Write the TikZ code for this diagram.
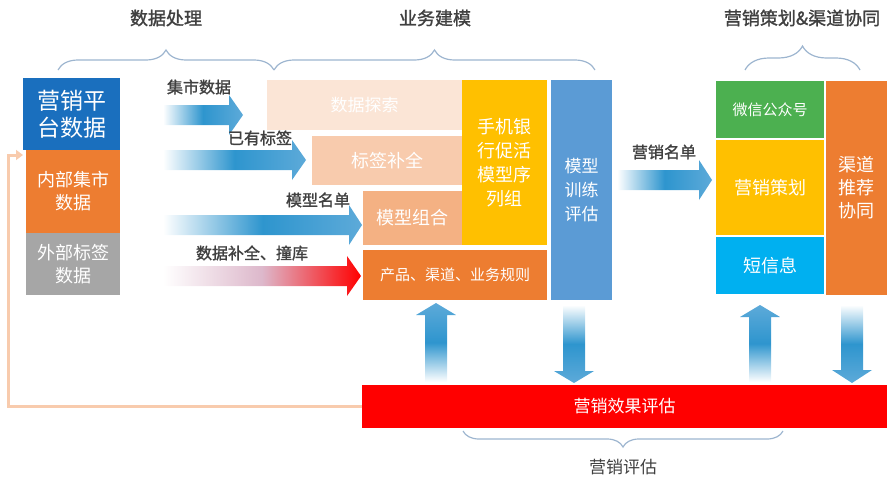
\documentclass[tikz,border=0pt]{standalone}
\usepackage{fontspec}
\setmainfont{Noto Sans CJK SC}[AutoFakeBold=1.5]
\usetikzlibrary{decorations.pathreplacing,arrows.meta,calc}
\definecolor{dblue}{HTML}{1A6FBE}
\definecolor{orng}{HTML}{ED7D31}
\definecolor{grey}{HTML}{A6A6A6}
\definecolor{peachA}{HTML}{FBE5D6}
\definecolor{peachB}{HTML}{F8CBAD}
\definecolor{peachC}{HTML}{F4B183}
\definecolor{yell}{HTML}{FFC000}
\definecolor{mblue}{HTML}{5B9BD5}
\definecolor{grn}{HTML}{4CB050}
\definecolor{cyn}{HTML}{00B0F0}
\definecolor{brc}{HTML}{9DB5CF}
\definecolor{lbl}{HTML}{404040}
\definecolor{abm}{HTML}{2E95CE}
\definecolor{abl}{HTML}{5DAAD9}
\definecolor{pinkmid}{HTML}{DDB8CB}
\newcommand\HArr[5]{%
  \shade[#1] (#2,{#5-10}) -- (#3,{#5-10}) -- (#3,{#5-20}) -- (#4,#5) -- (#3,{#5+20}) -- (#3,{#5+10}) -- (#2,{#5+10}) -- cycle;}
\newcommand\VArr[5]{%
  \shade[#1] ({#2-11},#3) -- ({#2-11},#4) -- ({#2-20},#4) -- (#2,#5) -- ({#2+20},#4) -- ({#2+11},#4) -- ({#2+11},#3) -- cycle;}
\begin{document}
\begin{tikzpicture}[x=1pt,y=-1pt,
  box/.style={inner sep=0pt, outer sep=0pt, anchor=north west, text=white, align=center},
  fs/.style={font=\fontsize{#1}{25}\selectfont},
  title/.style={text=lbl, font=\fontsize{18}{20}\selectfont\bfseries},
  alabel/.style={text=lbl, font=\fontsize{16}{18}\selectfont\bfseries},
  bracestyle/.style={draw=brc, line width=1.2pt, decorate, decoration={brace, amplitude=#1, aspect=0.5}},
  rgt/.style={left color=white, right color=abl, middle color=abm},
  redg/.style={left color=white, right color=red, middle color=pinkmid},
  upg/.style={bottom color=white, top color=abl, middle color=abm},
  dng/.style={top color=white, bottom color=abl, middle color=abm},
  fb/.style={draw=peachB, line width=3pt}
]
\useasboundingbox (0,0) rectangle (892,479);

% braces and titles
\draw[bracestyle=20pt] (58,70) -- (274,70);
\draw[bracestyle=20pt] (274,70) -- (595,70);
\draw[bracestyle=24pt] (745,70) -- (860,70);
\draw[bracestyle=16pt] (783,431) -- (463,431);
\node[title] (t1) at (166,18) {数据处理};
\node[title] (t2) at (435,18) {业务建模};
\node[title] (t3) at (802,18) {营销策划\&渠道协同};
\node[text=lbl, fs=17] (t4) at (623,467) {营销评估};

% left boxes
\node[box, fill=dblue, minimum width=97pt, minimum height=72pt, font=\fontsize{23}{27}\selectfont] (plat) at (23,78) {营销平\\台数据};
\node[box, fill=orng, minimum width=94pt, minimum height=83pt, font=\fontsize{18}{23}\selectfont] (intn) at (26,150) {内部集市\\数据};
\node[box, fill=grey, minimum width=94pt, minimum height=62pt, font=\fontsize{18}{23}\selectfont] (extn) at (26,233) {外部标签\\数据};

% modeling boxes
\node[box, fill=peachA, minimum width=195pt, minimum height=50pt, fs=17] (explore) at (267,80) {数据探索};
\node[box, fill=peachB, minimum width=150pt, minimum height=49pt, fs=18] (tagc) at (312,136) {标签补全};
\node[box, fill=peachC, minimum width=99pt, minimum height=54pt, fs=18] (combo) at (363,191) {模型组合};
\node[box, fill=orng, minimum width=184pt, minimum height=50pt, fs=15] (rules) at (363,250) {产品、渠道、业务规则};
\node[box, fill=yell, minimum width=85pt, minimum height=165pt, font=\fontsize{18}{24}\selectfont] (mobile) at (462,80) {手机银\\行促活\\模型序\\列组};
\node[box, fill=mblue, minimum width=61pt, minimum height=220pt, font=\fontsize{17}{24}\selectfont] (train) at (551,80) {模型\\训练\\评估};

% right boxes
\node[box, fill=grn, minimum width=108pt, minimum height=57pt, fs=15] (wechat) at (716,81) {微信公众号};
\node[box, fill=yell, minimum width=108pt, minimum height=95pt, fs=18] (plan) at (716,140) {营销策划};
\node[box, fill=cyn, minimum width=108pt, minimum height=57pt, fs=18] (sms) at (716,237) {短信息};
\node[box, fill=orng, minimum width=61pt, minimum height=214pt, font=\fontsize{18}{23}\selectfont] (chan) at (826,81) {渠道\\推荐\\协同};

% evaluation bar
\node[box, fill=red, minimum width=525pt, minimum height=43pt, fs=17] (evalbar) at (362,385) {营销效果评估};

% horizontal gradient arrows
\HArr{rgt}{163}{229}{243}{115}
\HArr{rgt}{163}{292}{306}{160}
\HArr{rgt}{163}{349}{362}{225}
\HArr{redg}{163}{347}{361}{276}
\HArr{rgt}{617}{699}{712}{180}
\node[alabel] (l1) at (199,87) {集市数据};
\node[alabel] (l2) at (260,138) {已有标签};
\node[alabel] (l3) at (318,200) {模型名单};
\node[alabel] (l4) at (252,253) {数据补全、撞库};
\node[alabel] (l5) at (664,152) {营销名单};

% vertical arrows
\VArr{upg}{436}{382}{315}{303}
\VArr{dng}{574}{305}{371}{383}
\VArr{upg}{760}{382}{317}{305}
\VArr{dng}{852}{305}{370}{383}

% feedback line
\coordinate (fbl) at (8,0);
\coordinate (fbt) at ($(intn.north west)+(-3,5)$);
\draw[fb, -{Triangle[length=7pt,width=10pt]}] (evalbar.west) -| (fbl |- fbt) -- (fbt);
\end{tikzpicture}
\end{document}
